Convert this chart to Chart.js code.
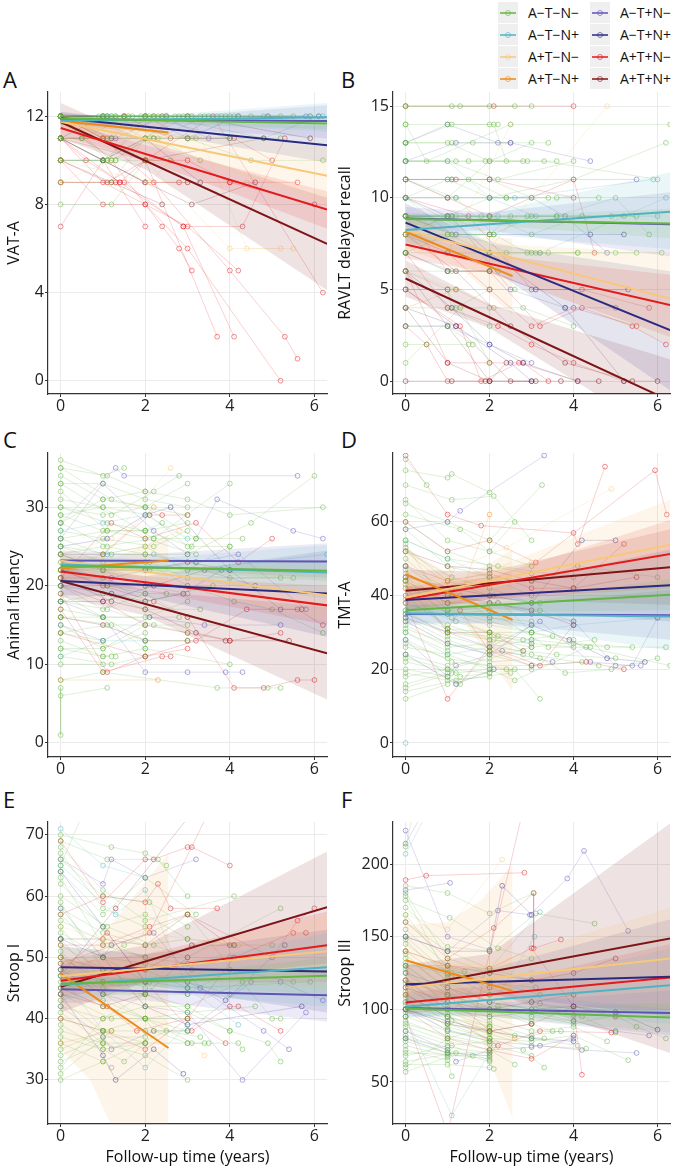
<!DOCTYPE html>
<html>
<head>
<meta charset="utf-8">
<script src="https://cdn.jsdelivr.net/npm/chart.js@4.4.1/dist/chart.umd.min.js"></script>
<style>
body { margin: 0; background: #fff; font-family: "Open Sans", sans-serif; }
#page { position: relative; width: 675px; height: 1168px; overflow: hidden; }
.box { position: absolute; }
.tag { position: absolute; font-size: 22px; line-height: 22px; color: #111; }
.key { position: absolute; width: 20px; height: 21px; background: #efefef; }
.key .ln { position: absolute; left: 2px; top: 10px; width: 16px; height: 2px; }
.key .pt { position: absolute; left: 7px; top: 8px; width: 4px; height: 4px; border-radius: 50%; border: 1px solid; }
.lab { position: absolute; font-size: 14px; line-height: 21px; color: #111; white-space: nowrap; }
</style>
</head>
<body>
<div id="page">
  <div class="tag" style="left:3px;top:68px">A</div>
  <div class="tag" style="left:341px;top:68px">B</div>
  <div class="tag" style="left:3px;top:428px">C</div>
  <div class="tag" style="left:341px;top:428px">D</div>
  <div class="tag" style="left:3px;top:788px">E</div>
  <div class="tag" style="left:341px;top:788px">F</div>
  <div id="legend"></div>
  <div class="box" style="left:0;top:80px;width:332px;height:340px"><canvas id="cA"></canvas></div>
  <div class="box" style="left:335px;top:80px;width:340px;height:340px"><canvas id="cB"></canvas></div>
  <div class="box" style="left:0;top:440px;width:332px;height:343px"><canvas id="cC"></canvas></div>
  <div class="box" style="left:335px;top:440px;width:340px;height:343px"><canvas id="cD"></canvas></div>
  <div class="box" style="left:0;top:800px;width:332px;height:368px"><canvas id="cE"></canvas></div>
  <div class="box" style="left:335px;top:800px;width:340px;height:368px"><canvas id="cF"></canvas></div>
</div>
<script>
// groups: 0 A-T-N-, 1 A-T-N+, 2 A+T-N-, 3 A+T-N+, 4 A-T+N-, 5 A-T+N+, 6 A+T+N-, 7 A+T+N+
var groupNames = ['A\u2212T\u2212N\u2212', 'A\u2212T\u2212N+', 'A+T\u2212N\u2212', 'A+T\u2212N+',
                  'A\u2212T+N\u2212', 'A\u2212T+N+', 'A+T+N\u2212', 'A+T+N+'];
var groupRgb = ['98,182,65', '79,179,195', '247,200,122', '238,138,23',
                '94,84,181', '42,42,128', '227,26,28', '127,20,22'];
var bandAlpha = [0.12, 0.12, 0.16, 0.09, 0.12, 0.12, 0.12, 0.12];
var xTicks = [0, 2, 4, 6];
var fitEndX = [6.3, 6.3, 6.3, 2.55, 6.3, 6.3, 6.3, 6.3];

// ---- A: VAT-A
var vatTicks = [0, 4, 8, 12];
var vatFit = [[11.9, 11.67], [11.8, 11.95], [11.75, 9.3], [11.8, 11.26],
              [11.85, 11.78], [11.92, 10.68], [11.47, 7.77], [11.74, 6.21]];
var vatBand = [
    [[0, 11.7, 12.0], [2, 11.7, 11.9], [6.3, 11.4, 11.9]],
    [[0, 11.6, 12.1], [2, 11.7, 12.0], [6.3, 11.3, 12.6]],
    [[0, 11.4, 12.1], [2, 10.8, 11.4], [6.3, 8.0, 10.6]],
    [[0, 11.4, 12.2], [1.3, 11.3, 11.8], [2.55, 10.4, 12.2]],
    [[0, 11.6, 12.1], [2, 11.5, 11.9], [6.3, 11.0, 12.5]],
    [[0, 11.6, 12.2], [2, 11.3, 11.8], [6.3, 9.9, 11.6]],
    [[0, 11.1, 11.8], [2, 10.0, 10.7], [6.3, 6.9, 8.6]],
    [[0, 11.0, 12.6], [2, 9.6, 10.9], [6.3, 4.1, 8.3]]
];
var vatTraj = [
    [0, 0,12, 1.1,12, 2.0,12, 3.0,12], [0, 0,12, 1.0,12, 2.1,12, 4.0,12], [0, 0,12, 1.2,12, 2.2,12],
    [0, 0,12, 1.0,12, 2.0,12, 3.1,12, 4.2,12, 5.2,12], [0, 0,11, 1.0,12, 2.0,11, 3.0,12],
    [0, 0,12, 1.1,11, 2.2,12], [0, 0,10, 1.0,10, 2.3,12], [0, 0,9, 1.2,9, 2.0,11],
    [0, 0,8, 1.2,8, 2.0,10], [0, 0,12, 0.5,11, 1.6,12], [0, 0,12, 1.1,10, 2.0,12, 4.0,11],
    [0, 0,11, 1.0,10, 2.0,11, 3.2,11], [0, 0,12, 1.5,12, 2.5,12, 3.5,12, 4.5,12, 5.5,12],
    [0, 0,12, 2.4,12, 4.8,11, 6.1,12], [0, 0,12, 3.0,11, 5.2,11], [0, 0,10, 1.2,10, 2.1,11, 3.0,11, 4.5,10, 6.2,10],
    [0, 0,12, 1.3,12, 1.7,12, 2.8,12, 3.3,12, 3.8,12, 4.1,12], [0, 0,11, 0.5,11, 1.3,10, 2.7,12],
    [0, 0,12, 0.9,12, 1.9,12, 2.9,12, 3.9,12, 4.9,12, 5.9,12], [0, 0,12, 1.3,12, 2.3,11, 3.4,12],
    [0, 0,11, 1.2,11, 2.2,11, 3.3,10], [0, 0,10, 1.1,10, 1.3,10, 2.6,10],
    [1, 0,12, 1.0,12, 2.0,12, 4.8,12, 6.2,12], [1, 0,12, 1.1,12, 2.2,12], [1, 0,11, 1.0,12],
    [1, 0,12, 1.2,12, 2.5,12, 3.7,12, 5.9,12],
    [2, 0,12, 1.0,11, 2.0,10, 4.0,6, 5.2,6], [2, 0,10, 2.1,9, 3.1,11], [2, 0,9, 1.2,10, 2.0,9, 4.4,9],
    [2, 0,12, 1.6,12, 3.1,12, 4.4,6, 5.5,6],
    [3, 0,11, 1.0,11, 2.0,12], [3, 0,12, 1.0,12],
    [4, 0,12, 1.1,12, 2.0,12, 3.0,11, 4.2,12, 5.8,12], [4, 0,10, 1.0,10, 2.0,9], [4, 0,11, 1.3,11, 2.4,12, 3.5,11],
    [4, 0,12, 2.5,12, 4.9,12, 6.1,12],
    [5, 0,12, 1.2,11, 2.2,11, 3.0,11, 4.0,11], [5, 0,11, 1.0,10, 2.0,11, 3.3,9],
    [6, 0,7, 1.0,10, 2.0,7], [6, 0,11, 1.0,9, 2.0,8, 3.0,7, 4.2,5], [6, 0,12, 1.2,10, 2.4,7, 2.8,6, 3.1,5],
    [6, 0,10, 1.1,9, 2.0,10, 3.0,10, 4.0,9, 6.0,8], [6, 0,11, 1.4,9, 2.0,10, 3.7,2],
    [6, 0,11, 0.6,10, 1.4,9, 2.9,7, 4.1,2], [6, 0,10, 1.0,8, 2.0,8, 3.0,6, 5.2,0],
    [6, 0,9, 1.5,9, 2.9,7, 4.3,7, 5.3,11], [6, 0,12, 1.0,11, 2.2,9, 4.0,5, 5.3,2, 5.6,1],
    [6, 0,11, 2.0,10, 3.6,12, 6.2,4], [6, 0,9, 1.3,9, 2.8,9, 4.0,9, 5.6,9],
    [6, 0,12, 1.5,12, 2.6,11, 4.1,11, 5.0,10],
    [7, 0,11, 1.0,10, 2.0,9, 3.0,9], [7, 0,12, 1.0,11, 2.0,10, 4.8,11], [7, 0,10, 1.2,9, 2.4,8],
    [7, 0,11, 2.0,9, 3.1,8, 4.6,9], [7, 0,12, 1.5,12, 3.0,12, 5.9,11]
];

// ---- B: RAVLT delayed recall
var ravltTicks = [0, 5, 10, 15];
var ravltFit = [[8.85, 8.6], [8.24, 9.24], [8.24, 4.5], [8.15, 5.73],
                [8.87, 8.56], [8.65, 2.78], [7.45, 4.15], [5.6, -1.07]];
var ravltBand = [
    [[0, 8.5, 9.2], [2, 8.5, 9.0], [6.3, 7.8, 9.4]],
    [[0, 7.4, 9.1], [2, 8.0, 9.2], [6.3, 7.2, 11.4]],
    [[0, 7.4, 9.1], [2, 6.3, 7.5], [6.3, 2.0, 7.0]],
    [[0, 7.2, 9.2], [1.3, 6.2, 7.8], [2.55, 3.6, 7.8]],
    [[0, 8.2, 9.5], [2, 8.2, 9.2], [6.3, 6.8, 10.3]],
    [[0, 7.6, 9.7], [2, 6.2, 7.5], [6.3, -0.5, 6.0]],
    [[0, 6.7, 8.2], [2, 5.9, 6.9], [6.3, 2.4, 5.8]],
    [[0, 4.6, 6.6], [2, 2.9, 4.2], [6.3, -3.2, 1.2]]
];
var ravltTraj = [
    [0, 0,15, 1.1,15, 2.0,15, 3.0,15], [0, 0,15, 1.3,15, 2.6,15], [0, 0,14, 1.0,14, 2.0,14, 2.2,14],
    [0, 0,13, 1.0,13, 2.0,12, 3.0,13], [0, 0,13, 1.1,13, 1.6,13, 3.4,13], [0, 0,12, 1.0,12, 2.2,11, 4.0,12],
    [0, 0,11, 1.0,11, 2.0,11, 3.0,10], [0, 0,11, 1.1,11, 1.5,11, 2.4,10, 3.4,10],
    [0, 0,10, 1.0,11, 2.0,10, 4.0,11, 6.2,13], [0, 0,10, 1.2,10, 2.1,8, 3.0,9, 5.2,9],
    [0, 0,9, 1.0,9, 2.0,9, 3.0,8, 4.2,9], [0, 0,9, 1.1,8, 2.0,8, 2.5,9],
    [0, 0,8, 1.0,8, 2.0,7, 3.1,7, 4.1,7, 5.5,7], [0, 0,7, 1.0,7, 2.0,7, 3.0,7], [0, 0,7, 1.1,6, 2.0,6],
    [0, 0,6, 1.0,6, 2.0,6, 2.2,6], [0, 0,6, 1.0,5, 1.2,5, 2.0,5], [0, 0,5, 1.0,5, 1.1,4, 2.0,4, 2.8,4, 4.0,3],
    [0, 0,4, 1.0,4, 2.0,3], [0, 0,3, 1.0,3, 1.6,2], [0, 0,2, 0.5,2, 1.5,2], [0, 0,12, 1.5,12, 3.3,12, 6.0,11],
    [0, 0,10, 2.4,7, 3.4,7, 5.0,7, 6.1,7], [0, 0,14, 0.5,12, 2.5,14, 6.3,14], [0, 0,1, 1.3,4, 2.0,1],
    [0, 0,12, 1.2,12, 1.9,12, 2.8,12], [0, 0,9, 1.2,9, 1.8,9, 2.9,9, 3.6,9, 4.9,9, 5.5,9],
    [0, 0,8, 1.0,9, 2.0,10, 2.4,10, 3.6,10, 4.6,10], [0, 0,11, 1.0,10, 2.0,12, 2.9,12, 3.6,12],
    [0, 0,5, 1.0,5, 1.2,4, 2.0,5, 2.6,5], [0, 0,9, 1.1,9, 2.0,9, 3.6,9, 5.0,10, 5.8,8],
    [0, 0,13, 1.1,14, 2.1,14, 2.4,12], [0, 0,7, 1.0,8, 2.1,8, 2.9,7, 3.2,7, 4.1,7],
    [1, 0,12, 1.0,12, 2.0,10, 3.1,9], [1, 0,9, 1.0,9, 2.2,9, 6.0,9], [1, 0,10, 1.1,8, 3.2,7, 6.2,10],
    [1, 0,11, 1.2,10, 2.6,10, 5.9,11],
    [2, 0,8, 1.0,7, 2.5,14], [2, 0,6, 1.2,5, 4.8,15],
    [3, 0,8, 1.0,9, 2.0,8], [3, 0,4, 1.2,5, 2.1,4],
    [4, 0,13, 1.0,14, 2.2,13, 2.5,13], [4, 0,10, 1.0,10, 2.0,10, 3.0,10, 3.8,9, 4.8,7],
    [4, 0,9, 1.1,9, 2.5,5, 3.8,4, 5.0,4], [4, 0,11, 1.1,11, 2.0,11, 5.5,11], [4, 0,3, 1.0,3, 2.0,2, 3.0,1],
    [4, 0,12, 1.2,13, 2.5,13, 4.4,12],
    [5, 0,7, 1.0,6, 2.0,6, 3.1,5, 5.3,5], [5, 0,9, 1.2,8, 2.0,8, 4.4,8, 5.2,8],
    [5, 0,6, 1.1,4, 2.0,2, 2.8,1, 4.1,0], [5, 0,10, 1.0,9, 2.0,7, 3.8,4, 5.2,0], [5, 0,4, 1.2,3, 2.5,1, 3.0,0],
    [6, 0,15, 2.1,15, 4.0,15], [6, 0,11, 1.0,10, 2.0,9, 4.0,11, 4.5,7],
    [6, 0,10, 1.5,9, 3.0,5, 4.2,5, 5.8,4], [6, 0,8, 1.0,7, 2.0,5, 3.0,3, 4.0,4, 5.5,3],
    [6, 0,7, 1.0,4, 2.2,3, 3.0,2, 4.0,1, 5.2,0], [6, 0,6, 1.0,1, 2.0,1, 2.8,1, 3.4,0],
    [6, 0,5, 1.3,3, 1.8,0, 2.7,1, 4.1,0], [6, 0,3, 0.5,2, 1.0,0, 2.0,0],
    [6, 0,9, 1.0,6, 2.0,6, 3.2,3, 4.2,4, 5.4,3, 6.2,2], [6, 0,11, 1.2,11, 2.0,11, 4.0,10],
    [7, 0,6, 1.0,3, 2.0,0, 2.4,1], [7, 0,5, 1.2,3, 2.5,0, 3.7,0, 4.6,0], [7, 0,4, 1.0,1, 2.0,0, 3.0,0],
    [7, 0,8, 1.2,6, 2.5,3, 3.8,1, 5.4,0, 6.0,0], [7, 0,0, 1.1,0, 1.9,0, 3.1,0]
];

// ---- C: Animal fluency
var fluTicks = [0, 10, 20, 30];
var fluFit = [[22.5, 21.9], [22.7, 21.7], [23.2, 18.8], [22.2, 23.2],
              [23.2, 23.1], [20.6, 19.0], [21.8, 17.5], [20.6, 11.4]];
var fluBand = [
    [[0, 22.0, 23.0], [2, 21.9, 22.6], [6.3, 20.6, 23.2]],
    [[0, 21.5, 23.9], [2, 21.6, 23.4], [6.3, 18.3, 25.2]],
    [[0, 22.0, 24.4], [2, 20.8, 22.6], [6.3, 15.5, 22.0]],
    [[0, 20.7, 23.8], [1.3, 21.3, 23.6], [2.55, 20.0, 26.5]],
    [[0, 21.9, 24.5], [2, 22.2, 24.0], [6.3, 21.0, 25.4]],
    [[0, 18.8, 22.4], [2, 18.6, 21.2], [6.3, 13.5, 24.5]],
    [[0, 20.5, 23.1], [2, 19.4, 21.2], [6.3, 15.0, 20.0]],
    [[0, 18.6, 22.6], [2, 16.2, 19.4], [6.3, 5.5, 17.3]]
];
var fluTraj = [
    [0, 0,36, 1.0,34, 1.5,35], [0, 0,35, 1.1,34, 2.0,32], [0, 0,34, 1.0,31, 2.0,30, 3.0,33],
    [0, 0,33, 1.2,29, 2.2,32, 2.8,34], [0, 0,32, 1.1,27, 2.0,27, 2.4,28], [0, 0,31, 1.0,30, 2.2,26, 4.0,33],
    [0, 0,30, 1.0,29, 2.0,30, 3.2,26, 4.3,26], [0, 0,29, 1.0,27, 2.0,27, 3.1,25],
    [0, 0,28, 1.1,25, 2.0,24, 3.0,24, 4.5,28, 6.0,34], [0, 0,27, 1.0,26, 2.2,25, 3.0,27],
    [0, 0,26, 1.0,24, 2.0,25, 3.0,22, 4.0,25], [0, 0,25, 1.2,24, 2.0,24, 3.2,23],
    [0, 0,24, 1.0,22, 2.1,23, 3.0,21, 5.2,21], [0, 0,23, 1.0,22, 2.0,20, 3.0,19], [0, 0,22, 1.1,20, 2.0,19, 3.0,16],
    [0, 0,21, 1.0,21, 2.0,18, 3.6,20], [0, 0,20, 1.0,17, 2.0,19, 2.5,19], [0, 0,19, 1.0,16, 2.0,16, 3.0,18],
    [0, 0,18, 1.1,17, 2.2,15, 3.0,14], [0, 0,17, 1.0,16, 2.0,13, 3.0,13], [0, 0,16, 1.2,15, 2.0,12],
    [0, 0,15, 1.0,12, 2.0,14], [0, 0,14, 1.0,13, 1.3,11], [0, 0,13, 1.0,11, 2.0,12, 4.0,10],
    [0, 0,12, 1.0,12, 2.0,15], [0, 0,11, 1.2,10, 2.0,11], [0, 0,10, 1.0,10],
    [0, 0,8, 1.0,9, 3.7,7, 4.9,7, 5.2,7], [0, 0,7, 0, 1], [0, 0,6, 1.1,7],
    [0, 0,25, 1.0,23, 2.0,23, 3.0,20, 4.1,18, 5.0,17, 6.2,14], [0, 0,28, 1.0,31, 2.0,32, 3.0,31, 4.0,29, 6.2,30],
    [0, 0,33, 1.0,33, 2.0,31, 3.0,30], [0, 0,30, 1.1,28, 2.0,27, 3.0,28], [0, 0,26, 1.1,27, 2.0,26, 3.2,24],
    [0, 0,24, 1.0,25, 2.2,26, 3.2,26], [0, 0,22, 1.0,22, 2.1,22, 4.0,21, 5.5,21], [0, 0,20, 1.1,20, 2.0,20, 3.0,20],
    [0, 0,18, 1.0,19, 2.0,17, 3.3,17], [0, 0,16, 1.0,16, 2.1,16, 2.8,16], [0, 0,14, 1.1,15, 2.0,15, 3.0,15],
    [0, 0,12, 1.0,11, 1.2,11], [0, 0,35, 1.2,31, 2.0,30, 3.0,29], [0, 0,29, 1.0,30, 2.1,29, 3.0,25, 4.0,25],
    [1, 0,27, 1.0,28, 2.0,29, 3.0,26], [1, 0,24, 1.1,24, 2.2,24, 3.0,22, 6.3,24], [1, 0,11, 1.0,13, 2.0,13],
    [2, 0,24, 1.2,26, 2.6,35], [2, 0,23, 2.0,25, 2.8,27],
    [3, 0,22, 1.0,24, 2.2,30], [3, 0,8, 2.3,8],
    [4, 0,28, 1.3,35, 1.5,34, 5.6,34], [4, 0,26, 1.0,33, 2.2,27, 3.0,24, 3.7,31, 5.5,27, 6.2,26],
    [4, 0,22, 1.2,21, 2.0,22, 3.2,23, 4.2,24, 5.8,17], [4, 0,18, 1.0,16, 2.0,9, 3.0,9, 3.9,9, 4.3,9],
    [4, 0,15, 1.0,13, 2.1,16, 3.4,15, 5.2,15],
    [5, 0,25, 1.1,26, 2.0,29, 2.6,30, 4.0,22, 5.2,17, 5.7,17], [5, 0,20, 1.2,19, 2.0,18, 2.9,19, 3.8,22],
    [5, 0,18, 1.0,18, 2.2,20, 3.4,22, 4.6,20],
    [6, 0,24, 1.0,24, 2.1,29, 2.4,29, 3.0,29], [6, 0,21, 1.2,28, 2.0,26, 3.2,28, 4.2,23, 5.0,26],
    [6, 0,20, 1.0,18, 2.0,15, 3.0,14, 4.0,13, 5.2,14], [6, 0,19, 1.1,9, 2.0,11, 3.0,12],
    [6, 0,17, 1.0,9, 2.4,11, 2.6,11], [6, 0,14, 2.0,11, 3.2,13, 4.4,17, 5.6,17, 6.2,15],
    [6, 0,22, 1.0,20, 2.2,18, 3.0,16, 4.1,7, 4.8,7, 5.6,8, 6.0,8],
    [7, 0,24, 1.0,22, 2.0,22, 3.0,23, 4.0,22], [7, 0,21, 1.2,18, 2.0,17, 3.2,14, 4.0,13, 5.4,13],
    [7, 0,16, 1.0,15, 2.0,13, 3.0,13, 3.9,13]
];

// ---- D: TMT-A
var tmtTicks = [0, 20, 40, 60];
var tmtFit = [[36.0, 40.2], [35.2, 34.3], [39.5, 53.8], [45.8, 33.4],
              [35.0, 34.7], [38.8, 42.8], [39.0, 51.3], [41.3, 47.7]];
var tmtBand = [
    [[0, 34.5, 37.5], [2, 35.5, 38.0], [6.3, 36.0, 44.5]],
    [[0, 32.0, 38.5], [2, 32.5, 37.0], [6.3, 25.0, 43.5]],
    [[0, 35.0, 44.0], [2, 40.0, 47.0], [6.3, 42.0, 66.0]],
    [[0, 38.5, 53.0], [1.3, 34.5, 44.0], [2.55, 14.0, 52.5]],
    [[0, 32.5, 37.5], [2, 32.5, 37.0], [6.3, 28.0, 41.5]],
    [[0, 35.0, 42.5], [2, 36.5, 42.0], [6.3, 33.0, 52.5]],
    [[0, 35.5, 42.5], [2, 39.0, 45.0], [6.3, 42.0, 60.5]],
    [[0, 36.0, 47.0], [2, 39.0, 46.5], [6.3, 37.5, 58.0]]
];
var tmtTraj = [
    [0, 0,74, 1.0,72, 1.1,73, 2.0,68], [0, 0,70, 1.1,66, 2.1,67, 3.0,55], [0, 0,65, 1.0,60, 2.0,55, 3.25,70],
    [0, 0,62, 1.3,58, 2.0,52, 2.6,60], [0, 0,58, 1.0,48, 2.0,45, 3.0,40], [0, 0,55, 1.0,50, 2.2,48, 4.0,45],
    [0, 0,52, 1.1,45, 2.0,42, 3.0,38], [0, 0,50, 1.0,40, 2.0,38, 3.2,36, 4.0,33], [0, 0,48, 1.0,42, 2.0,34, 3.0,32],
    [0, 0,45, 1.0,38, 2.1,40, 3.0,30], [0, 0,43, 1.0,35, 2.0,36, 3.4,26, 4.4,26],
    [0, 0,40, 1.0,31, 2.0,30, 3.0,28, 4.8,26, 6.2,26], [0, 0,38, 1.2,33, 2.2,29, 3.0,27, 4.0,26],
    [0, 0,36, 1.0,29, 2.0,26, 3.6,24, 5.0,23], [0, 0,34, 1.0,28, 2.0,24, 3.0,21, 4.2,22],
    [0, 0,32, 1.0,26, 2.0,27, 3.0,24, 4.6,21], [0, 0,30, 1.0,25, 2.0,22, 3.2,23, 3.8,19, 4.9,20, 6.0,23],
    [0, 0,28, 1.1,22, 2.0,21, 2.4,20, 3.0,20], [0, 0,26, 1.0,24, 2.0,20, 2.6,20, 3.2,12],
    [0, 0,24, 1.0,21, 1.3,18, 2.0,19], [0, 0,22, 1.2,19, 2.0,20, 2.6,17, 4.3,26, 6.3,21],
    [0, 0,20, 1.0,18, 1.3,16, 2.0,25], [0, 0,18, 1.0,20, 2.0,23, 3.0,26, 4.5,28], [0, 0,16, 1.0,19],
    [0, 0,14, 1.2,17, 2.5,19], [0, 0,12, 1.0,16], [0, 0,40, 2.0,45, 3.0,44, 4.1,48, 6.0,45],
    [0, 0,54, 1.0,36, 2.0,33, 3.0,30, 4.0,27, 5.4,26], [0, 0,46, 1.0,30, 2.0,29, 2.8,28, 3.5,29],
    [0, 0,66, 1.0,55, 2.0,52, 3.0,48], [0, 0,60, 1.0,52, 2.0,48, 3.0,46], [0, 0,53, 1.0,44, 2.0,40, 3.2,38],
    [0, 0,47, 1.0,36, 2.0,34, 3.0,33], [0, 0,44, 1.1,34, 2.0,30, 3.0,30, 4.0,28], [0, 0,39, 1.0,32, 2.1,28, 3.0,26],
    [0, 0,35, 1.0,31, 2.0,28, 3.0,27], [0, 0,31, 1.0,27, 2.0,25, 2.8,24], [0, 0,27, 1.0,23, 2.0,21, 3.0,21],
    [0, 0,23, 1.0,20, 2.0,19], [0, 0,19, 1.0,17, 2.0,18], [0, 0,15, 1.1,19], [0, 0,77, 0.5,70],
    [1, 0,36, 1.0,35, 2.0,32, 3.0,30, 4.0,32, 6.0,34], [1, 0,30, 1.0,24, 2.0,26, 3.0,28], [1, 0,0],
    [1, 0,55, 1.0,50, 2.0,45],
    [2, 0,42, 1.1,47, 2.4,53, 4.9,69], [2, 0,38, 2.0,44, 3.0,49],
    [3, 0,52, 1.3,40, 2.0,62], [3, 0,44, 1.0,30, 2.0,28],
    [4, 0,58, 1.0,60, 1.3,63, 3.3,78], [4, 0,48, 1.0,40, 2.2,38, 3.0,35, 4.0,33, 5.0,21, 5.6,21],
    [4, 0,35, 1.0,30, 2.0,26, 3.2,33, 4.4,22, 5.4,21, 6.0,34], [4, 0,28, 1.0,18, 1.2,21, 2.3,25, 3.5,22],
    [5, 0,45, 1.1,42, 2.0,40, 3.0,38, 4.2,55, 5.0,55], [5, 0,33, 1.0,27, 2.0,24, 3.0,32, 3.9,28, 4.8,23, 5.7,22],
    [5, 0,24, 1.2,16, 2.1,20],
    [6, 0,78, 1.0,62, 1.8,59, 4.0,57, 4.1,54, 4.75,75], [6, 0,60, 1.0,52, 2.0,55, 3.1,49, 5.94,74, 6.22,62],
    [6, 0,48, 1.0,44, 2.0,46, 3.0,42, 4.0,42, 5.2,54], [6, 0,42, 1.0,31, 1.3,36, 2.0,25, 3.0,21, 4.3,22, 5.2,20],
    [6, 0,38, 1.0,12, 2.0,26, 3.2,21, 4.0,32],
    [7, 0,52, 1.0,48, 2.0,47, 3.0,44, 4.0,42, 5.5,45], [7, 0,44, 1.0,38, 2.0,38, 3.0,36, 4.0,32],
    [7, 0,34, 1.0,30, 2.0,30, 2.8,25]
];

// ---- E: Stroop I
var stroop1Ticks = [30, 40, 50, 60, 70];
var stroop1Fit = [[45.7, 47.0], [45.5, 48.4], [46.9, 51.0], [47.3, 35.2],
                  [44.8, 43.8], [48.4, 47.7], [46.2, 52.0], [45.2, 58.2]];
var stroop1Band = [
    [[0, 44.8, 46.6], [2, 45.3, 46.8], [6.3, 44.0, 50.0]],
    [[0, 43.0, 48.0], [2, 44.5, 47.8], [6.3, 42.0, 54.0]],
    [[0, 44.0, 49.8], [2, 46.0, 50.0], [6.3, 45.0, 57.0]],
    [[0, 35.0, 52.0], [0.7, 30.0, 51.0], [1.5, 18.0, 58.0], [2.55, 5.0, 67.0]],
    [[0, 42.5, 47.0], [2, 43.0, 46.5], [6.3, 39.5, 48.0]],
    [[0, 45.0, 51.8], [2, 45.5, 50.5], [6.3, 41.0, 54.5]],
    [[0, 43.5, 49.0], [2, 46.0, 50.5], [6.3, 46.0, 57.5]],
    [[0, 41.0, 49.5], [2, 46.0, 52.0], [6.3, 49.0, 67.3]]
];
var stroop1Traj = [
    [0, 0,70, 1.2,68, 2.0,67, 2.5,65], [0, 0,69, 1.1,66, 2.3,66, 3.0,60], [0, 0,68, 1.0,61, 2.0,56, 4.1,60],
    [0, 0,66, 1.0,60, 2.1,59, 3.0,55], [0, 0,64, 1.0,57, 2.0,63, 3.2,57], [0, 0,62, 1.0,55, 2.0,57, 3.0,53],
    [0, 0,60, 1.1,55, 2.2,52, 3.0,50, 5.2,58], [0, 0,58, 1.0,54, 2.0,52, 3.0,53, 4.1,52, 5.0,52],
    [0, 0,56, 1.2,52, 2.0,50, 3.0,49, 4.0,50], [0, 0,54, 1.0,50, 2.0,49, 3.1,48],
    [0, 0,52, 1.0,48, 2.0,45, 3.0,44, 4.0,48, 5.5,46], [0, 0,50, 1.0,46, 2.1,46, 3.0,45, 5.9,46],
    [0, 0,48, 1.0,44, 2.0,44, 3.0,42, 4.3,46], [0, 0,46, 1.0,43, 2.0,40, 3.1,36, 3.4,36],
    [0, 0,44, 1.2,40, 2.0,40, 2.2,38, 3.0,36], [0, 0,42, 1.0,40, 2.0,42, 3.0,42, 4.0,38],
    [0, 0,40, 1.0,38, 2.0,36, 3.0,36, 3.5,36, 4.2,36, 4.3,35], [0, 0,38, 1.0,36, 2.0,34, 3.0,30],
    [0, 0,37, 1.0,35, 1.5,33, 2.0,36], [0, 0,36, 1.0,33, 1.2,32], [0, 0,35, 1.0,38, 2.0,40, 3.0,41, 4.6,42],
    [0, 0,34, 1.0,37, 2.0,37], [0, 0,33, 1.0,36], [0, 0,32, 1.0,40, 2.0,44], [0, 0,31, 1.2,38],
    [0, 0,30, 1.0,33, 2.5,38, 3.3,37], [0, 0,45, 2.0,44, 4.0,38, 4.9,36, 5.2,33],
    [0, 0,47, 1.5,52, 3.0,57, 5.0,40, 5.2,40], [0, 0,65, 0.8,78],
    [0, 0,67, 1.0,58, 2.0,55], [0, 0,63, 1.0,52, 2.0,50], [0, 0,59, 1.0,48, 2.0,48, 3.0,45],
    [0, 0,55, 1.0,46, 2.0,44, 3.0,44], [0, 0,51, 1.0,44, 2.0,40, 3.0,40], [0, 0,49, 1.0,42, 2.0,40, 3.0,38],
    [0, 0,43, 1.0,38, 2.0,38, 3.0,38], [0, 0,41, 1.0,36, 2.0,36], [0, 0,39, 1.0,35, 2.0,36],
    [0, 0,57, 1.0,50, 2.0,46, 3.0,46, 4.0,44], [0, 0,53, 1.0,45, 2.0,44],
    [1, 0,71, 1.0,65, 2.0,63], [1, 0,65, 1.3,57, 2.0,61, 3.0,45, 4.2,39], [1, 0,47, 1.0,38, 2.0,32, 3.0,39],
    [2, 0,55, 1.0,53, 2.0,54, 4.2,52], [2, 0,43, 1.4,46, 3.4,34],
    [3, 0,50, 1.0,46, 2.0,46], [3, 0,36, 1.2,38],
    [4, 0,66, 1.0,62, 1.2,66, 2.0,63, 3.2,66], [4, 0,58, 1.0,50, 1.2,52, 2.2,54, 3.3,45, 4.8,38, 5.4,35],
    [4, 0,48, 1.0,44, 2.0,42, 3.0,41, 4.3,30, 5.8,41], [4, 0,42, 1.0,37, 1.2,35, 2.2,38, 3.0,38, 4.5,46, 5.2,46, 6.2,43],
    [5, 0,64, 1.0,55, 2.0,46, 3.0,46, 3.9,43, 5.3,52], [5, 0,53, 1.0,50, 2.0,42, 3.0,39, 5.7,42],
    [5, 0,44, 1.0,34, 1.3,30, 2.2,35, 2.9,31],
    [6, 0,69, 1.0,59, 2.0,66, 2.2,66, 3.0,68, 3.1,68, 4.0,65], [6, 0,57, 1.0,60, 2.0,59, 2.3,62, 2.6,58, 3.7,58],
    [6, 0,52, 1.0,52, 2.1,55, 3.0,57, 5.0,50, 5.6,56, 6.0,58], [6, 0,48, 1.1,54, 2.0,46, 3.1,38, 4.0,42, 4.2,42, 5.2,38],
    [6, 0,40, 1.0,38, 2.0,35, 3.0,40, 3.9,36], [6, 0,44, 1.1,42, 1.8,38, 3.0,40, 4.1,50, 5.5,54, 5.8,54],
    [6, 0,49, 2.1,54, 4.3,85],
    [7, 0,53, 1.0,53, 2.0,52, 3.0,57, 4.0,52], [7, 0,50, 1.0,48, 2.0,48, 3.1,52, 4.1,52],
    [7, 0,45, 1.0,42, 2.0,44, 3.0,50], [7, 0,47, 1.3,58, 5.0,90]
];

// ---- F: Stroop III
var stroop3Ticks = [50, 100, 150, 200];
var stroop3Fit = [[100.5, 94.3], [101.7, 116.6], [115, 135], [133.8, 112.7],
                  [101, 97.5], [117.3, 122.4], [104.7, 121.9], [115, 148.8]];
var stroop3Band = [
    [[0, 97, 104], [2, 95, 102], [6.3, 84, 104]],
    [[0, 94, 110], [2, 98, 112], [6.3, 90, 142]],
    [[0, 100, 130], [2, 112, 132], [6.3, 100, 170]],
    [[0, 112, 158], [1.0, 104, 160], [1.8, 80, 175], [2.55, 25, 200]],
    [[0, 95, 107], [2, 95, 104], [6.3, 82, 113]],
    [[0, 105, 130], [2, 110, 128], [6.3, 95, 162]],
    [[0, 97, 112], [2, 102, 116], [6.3, 100, 145]],
    [[0, 100, 131], [2, 112, 138], [6.3, 70, 228]]
];
var stroop3Traj = [
    [0, 0,185, 1.0,180, 2.0,166, 3.05,180], [0, 0,175, 1.05,163, 2.2,142, 3.0,135],
    [0, 0,170, 1.0,143, 2.0,140, 3.1,166, 4.5,159], [0, 0,160, 1.0,140, 2.0,128, 3.0,120],
    [0, 0,155, 1.0,130, 2.0,120, 3.2,110], [0, 0,150, 1.0,125, 2.0,115, 3.0,105, 4.0,100],
    [0, 0,145, 1.1,123, 2.0,110, 3.0,95, 4.0,92], [0, 0,140, 1.0,120, 2.0,105, 3.1,100, 4.2,95, 5.0,84],
    [0, 0,135, 1.0,115, 2.0,100, 3.0,90, 3.5,85], [0, 0,130, 1.0,110, 2.2,100, 3.0,92],
    [0, 0,125, 1.0,105, 2.0,95, 3.0,85, 4.0,88, 4.8,78], [0, 0,120, 1.0,100, 2.0,90, 3.0,82, 3.7,85],
    [0, 0,115, 1.0,98, 2.0,88, 2.6,82, 3.3,80], [0, 0,110, 1.0,95, 2.0,85, 3.0,80, 4.1,75],
    [0, 0,105, 1.1,92, 2.0,83, 3.0,75, 4.3,73], [0, 0,100, 1.0,90, 2.0,80, 2.8,72, 3.3,60],
    [0, 0,95, 1.0,85, 2.0,80, 3.0,78, 4.0,82, 5.3,65], [0, 0,92, 1.0,80, 2.1,75, 3.0,68],
    [0, 0,88, 1.0,78, 2.0,72, 2.6,62], [0, 0,85, 1.1,75, 2.0,65], [0, 0,82, 1.0,72, 2.0,64, 2.1,59],
    [0, 0,78, 1.0,70, 2.0,70], [0, 0,75, 1.0,68, 1.6,68], [0, 0,72, 1.0,65, 1.1,54], [0, 0,68, 1.0,75, 2.0,78],
    [0, 0,64, 1.2,70], [0, 0,60, 1.0,80, 2.0,88], [0, 0,57, 1.0,67],
    [0, 0,98, 2.2,102, 4.0,90, 5.0,96, 5.5,88, 6.2,80], [0, 0,212, 0.3,250],
    [0, 0,178, 1.0,122, 1.1,125, 2.0,118, 3.1,115], [0, 0,132, 1.0,124, 1.4,126, 2.0,110, 3.2,104, 4.0,96],
    [0, 0,180, 1.0,135, 2.0,125], [0, 0,165, 1.0,128, 2.0,118], [0, 0,148, 1.0,118, 2.0,105],
    [0, 0,138, 1.0,112, 2.0,98], [0, 0,128, 1.0,102, 2.0,92], [0, 0,118, 1.0,95, 2.0,88],
    [0, 0,112, 1.0,90, 2.0,84], [0, 0,108, 1.0,88, 2.0,80], [0, 0,103, 1.0,85, 2.0,78],
    [0, 0,90, 1.0,82, 2.0,76], [0, 0,80, 1.0,74, 2.0,70], [0, 0,70, 1.0,69, 2.0,66], [0, 0,62, 1.0,62, 2.0,60],
    [1, 0,207, 0.6,240], [1, 0,130, 1.0,110, 2.0,100, 3.07,150], [1, 0,95, 1.1,27, 2.0,70],
    [1, 0,105, 1.0,95, 3.2,167],
    [2, 0,165, 1.0,155, 2.3,203], [2, 0,120, 1.3,105, 3.0,125],
    [3, 0,140, 1.0,130, 2.0,115], [3, 0,110, 1.0,95, 2.6,80],
    [4, 0,223, 1.0,150, 2.0,141], [4, 0,182, 1.06,187], [4, 0,214, 0.5,240],
    [4, 0,150, 1.0,140, 2.2,168, 2.96,165, 3.85,190, 4.25,209, 5.3,154],
    [4, 0,120, 1.0,100, 2.0,95, 3.0,98, 4.0,92, 5.0,85, 5.8,82], [4, 0,100, 1.0,86, 2.0,78, 3.2,75, 4.2,72, 5.5,70],
    [4, 0,85, 1.0,72, 1.2,64, 2.0,72, 3.0,74, 4.0,80],
    [5, 0,150, 1.0,140, 2.0,140, 2.3,185, 3.0,165], [5, 0,125, 1.0,115, 2.0,105, 3.0,100, 4.0,102, 5.0,98, 6.0,86],
    [5, 0,100, 1.0,92, 2.0,85, 3.0,80, 4.0,78], [5, 0,80, 1.0,70, 2.0,68],
    [6, 0,189, 0.49,192, 2.83,194], [6, 0,160, 1.0,135, 2.1,156, 3.05,180, 3.05,142, 3.7,148],
    [6, 0,140, 1.0,130, 2.0,128, 3.0,142, 4.0,102, 5.0,95], [6, 0,120, 1.0,110, 2.0,85, 3.0,90, 4.0,102, 4.2,55],
    [6, 0,100, 1.0,80, 2.0,72, 3.0,66, 4.0,82], [6, 0,110, 1.0,95, 2.2,75, 3.2,85, 4.9,84],
    [6, 0,95, 1.0,15, 2.9,250],
    [7, 0,130, 1.0,130, 2.0,125, 3.0,120, 4.0,125, 5.0,135], [7, 0,115, 1.0,105, 2.0,100, 3.0,105, 4.0,110],
    [7, 0,100, 1.0,90, 2.0,85, 3.0,90]
];

Chart.defaults.font.family = "'Open Sans', sans-serif";
Chart.defaults.color = '#222';

function rgba(g, a) {
    return 'rgba(' + groupRgb[g] + ',' + a + ')';
}

function buildDatasets(traj, fit, band) {
    var ds = [];
    fit.forEach(function (f, g) {
        ds.push({
            data: [{x: 0, y: f[0]}, {x: fitEndX[g], y: f[1]}],
            borderColor: rgba(g, 1), borderWidth: 2, pointRadius: 0, fill: false, order: 0
        });
    });
    band.forEach(function (b, g) {
        ds.push({
            data: b.map(function (p) { return {x: p[0], y: p[1]}; }),
            borderColor: 'rgba(0,0,0,0)', borderWidth: 0, pointRadius: 0, fill: false, order: 1
        });
        ds.push({
            data: b.map(function (p) { return {x: p[0], y: p[2]}; }),
            borderColor: 'rgba(0,0,0,0)', borderWidth: 0, pointRadius: 0, order: 1,
            fill: '-1', backgroundColor: rgba(g, bandAlpha[g])
        });
    });
    traj.forEach(function (t) {
        var g = t[0];
        var pts = [];
        for (var i = 1; i < t.length; i += 2) {
            pts.push({x: t[i], y: t[i + 1]});
        }
        ds.push({
            data: pts, borderColor: rgba(g, 0.25), borderWidth: 0.8,
            pointRadius: 2.4, pointBorderWidth: 0.9, pointBorderColor: rgba(g, 0.55),
            pointBackgroundColor: 'rgba(0,0,0,0)', fill: false, order: 2
        });
    });
    return ds;
}

function makePanel(id, traj, fit, band, yTicks, yMin, yMax, yTitle, col, row) {
    var yW = col === 0 ? 48 : 58;
    var padR = col === 0 ? 4 : 1;
    var padT = [12, 13, 22][row];
    var xH = row === 2 ? 44 : 26;
    new Chart(document.getElementById(id), {
        type: 'line',
        data: {datasets: buildDatasets(traj, fit, band)},
        options: {
            responsive: true,
            maintainAspectRatio: false,
            animation: false,
            events: [],
            layout: {padding: {top: padT, right: padR, left: 0, bottom: 0}},
            plugins: {legend: {display: false}, tooltip: {enabled: false}},
            scales: {
                x: {
                    type: 'linear', min: -0.3, max: 6.3,
                    afterBuildTicks: function (s) { s.ticks = xTicks.map(function (v) { return {value: v}; }); },
                    afterFit: function (s) { s.height = xH; },
                    grid: {color: '#ebebeb', lineWidth: 1, tickColor: '#333', tickLength: 3},
                    border: {color: '#333', width: 1.2},
                    ticks: {font: {size: 16}, color: '#222', padding: 0, maxRotation: 0},
                    title: {display: row === 2, text: 'Follow-up time (years)', font: {size: 16}, color: '#111',
                            padding: {top: 0, bottom: 1}}
                },
                y: {
                    type: 'linear', min: yMin, max: yMax,
                    afterBuildTicks: function (s) { s.ticks = yTicks.map(function (v) { return {value: v}; }); },
                    afterFit: function (s) { s.width = yW; },
                    grid: {color: '#ebebeb', lineWidth: 1, tickColor: '#333', tickLength: 3},
                    border: {color: '#333', width: 1.2},
                    ticks: {font: {size: 16}, color: '#222', padding: 1},
                    title: {display: true, text: yTitle, font: {size: 16}, color: '#111',
                            padding: {top: col === 0 ? 5 : 1, bottom: 0}}
                }
            }
        }
    });
}

function makeLegend() {
    var box = document.getElementById('legend');
    groupNames.forEach(function (name, g) {
        var left = g < 4 ? 498 : 590;
        var top = 2 + (g % 4) * 22;
        var key = document.createElement('div');
        key.className = 'key';
        key.style.left = left + 'px';
        key.style.top = top + 'px';
        key.innerHTML = '<div class="ln" style="background:' + rgba(g, 0.75) + '"></div>' +
            '<div class="pt" style="border-color:' + rgba(g, 0.6) + '"></div>';
        box.appendChild(key);
        var lab = document.createElement('div');
        lab.className = 'lab';
        lab.style.left = (left + 30) + 'px';
        lab.style.top = top + 'px';
        lab.textContent = name;
        box.appendChild(lab);
    });
}

makeLegend();
makePanel('cA', vatTraj, vatFit, vatBand, vatTicks, -0.6, 13.1, 'VAT-A', 0, 0);
makePanel('cB', ravltTraj, ravltFit, ravltBand, ravltTicks, -0.7, 15.77, 'RAVLT delayed recall', 1, 0);
makePanel('cC', fluTraj, fluFit, fluBand, fluTicks, -1.8, 36.9, 'Animal fluency', 0, 1);
makePanel('cD', tmtTraj, tmtFit, tmtBand, tmtTicks, -3.8, 78.7, 'TMT-A', 1, 1);
makePanel('cE', stroop1Traj, stroop1Fit, stroop1Band, stroop1Ticks, 22.8, 72.1, 'Stroop I', 0, 2);
makePanel('cF', stroop3Traj, stroop3Fit, stroop3Band, stroop3Ticks, 21.1, 228.9, 'Stroop III', 1, 2);
</script>
</body>
</html>
